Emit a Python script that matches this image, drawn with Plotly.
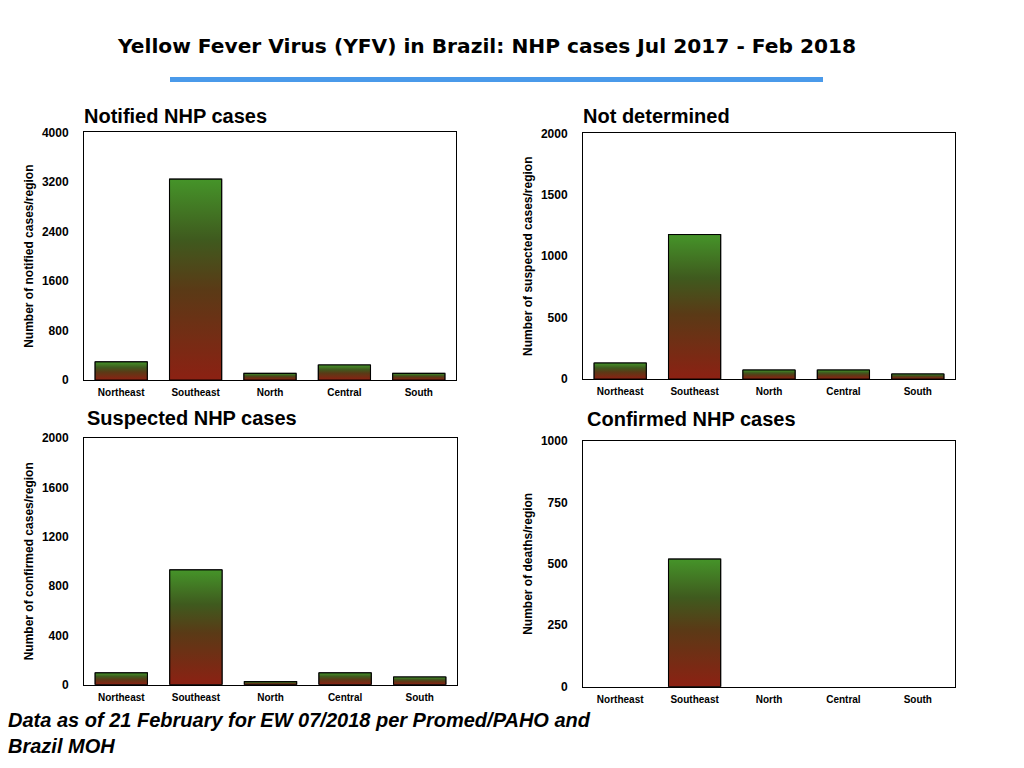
import plotly.graph_objects as go

# Regions (x categories)
regions = ["Northeast", "Southeast", "North", "Central", "South"]

# Values per panel
notified = [292, 3243, 107, 243, 107]
not_determined = [130, 1176, 73, 73, 41]
suspected = [95, 930, 24, 95, 62]
confirmed = [0, 519, 0, 0, 0]

panel_titles = ["Notified NHP cases", "Not determined",
                "Suspected NHP cases", "Confirmed NHP cases"]
y_titles = ["Number of notified cases/region", "Number of suspected cases/region",
            "Number of confirmed cases/region", "Number of deaths/region"]
y_ticks = [
    [0, 800, 1600, 2400, 3200, 4000],
    [0, 500, 1000, 1500, 2000],
    [0, 400, 800, 1200, 1600, 2000],
    [0, 250, 500, 750, 1000],
]
series = [notified, not_determined, suspected, confirmed]

W, H = 1024, 768
FONT = "Liberation Sans, Arial, Helvetica, sans-serif"
BAR_W = 0.7
GRADIENT = [[0.0, "#8c2113"], [0.45, "#5a3a16"], [0.7, "#3f5a1e"], [1.0, "#459429"]]


def px(x):
    return x / W


def py(y):
    # page pixel -> paper fraction (small vertical correction measured on the render)
    return 1 - ((y - 6.5) / 0.983) / H


# plot areas in pixels: (left, right, top, bottom)
boxes = [(84, 456, 132, 380), (583, 955, 133, 379),
         (84, 457, 438, 685), (583, 955, 441, 687)]
# panel title positions (left, middle) in pixels
title_pos = [(84, 116), (583, 116), (87, 418), (587, 419)]

fig = go.Figure()
layout = {}

for k, (vals, box) in enumerate(zip(series, boxes)):
    n = "" if k == 0 else str(k + 1)
    xa, ya = "x" + n, "y" + n
    xs = list(range(len(regions)))

    # the bars themselves (no outline on empty bars)
    fig.add_trace(go.Bar(
        x=xs, y=vals, width=BAR_W, xaxis=xa, yaxis=ya,
        marker=dict(color="rgba(0,0,0,0)",
                    line=dict(color="black", width=[1.2 if v > 0 else 0 for v in vals])),
        hovertext=regions, showlegend=False,
    ))
    # gradient fill for each bar
    for i, v in enumerate(vals):
        if v <= 0:
            continue
        x0, x1 = i - BAR_W / 2, i + BAR_W / 2
        fig.add_trace(go.Scatter(
            x=[x0, x0, x1, x1, x0], y=[0, v, v, 0, 0], xaxis=xa, yaxis=ya,
            mode="lines", fill="toself",
            fillgradient=dict(type="vertical", colorscale=GRADIENT),
            line=dict(color="black", width=1),
            hoverinfo="skip", showlegend=False,
        ))

    l, r, t, b = box
    layout["xaxis" + n] = dict(
        domain=[px(l), px(r)], anchor=ya, range=[-0.5, 4.5],
        tickvals=xs, ticktext=regions, showgrid=False, zeroline=False,
        showline=True, mirror=True, linecolor="black", linewidth=1,
        ticks="", ticklabelstandoff=3,
        tickfont=dict(family=FONT, size=10, color="black", weight="bold"),
        fixedrange=True,
    )
    layout["yaxis" + n] = dict(
        domain=[py(b), py(t)], anchor=xa,
        range=[0, y_ticks[k][-1]], tickvals=y_ticks[k],
        showgrid=False, zeroline=False,
        showline=True, mirror=True, linecolor="black", linewidth=1,
        ticks="", ticklabelstandoff=12,
        tickfont=dict(family=FONT, size=12, color="black", weight="bold"),
        title=dict(text=y_titles[k], standoff=5,
                   font=dict(family=FONT, size=12, color="black", weight="bold")),
        fixedrange=True,
    )

annotations = [
    dict(text="Yellow Fever Virus (YFV) in Brazil: NHP cases Jul 2017 - Feb 2018",
         x=px(486), y=py(46), xref="paper", yref="paper",
         xanchor="center", yanchor="middle", showarrow=False,
         font=dict(family="DejaVu Sans, sans-serif", size=20.2, color="black", weight="bold")),
    dict(text="<b><i>Data as of 21 February for EW 07/2018 per Promed/PAHO and<br>Brazil MOH</i></b>",
         x=px(6), y=py(733), xref="paper", yref="paper",
         xanchor="left", yanchor="middle", align="left", showarrow=False,
         font=dict(family=FONT, size=20, color="black")),
]
for title, (tx, ty) in zip(panel_titles, title_pos):
    annotations.append(dict(
        text=title, x=px(tx), y=py(ty), xref="paper", yref="paper",
        xanchor="left", yanchor="middle", showarrow=False, xshift=-2,
        font=dict(family=FONT, size=20, color="black", weight="bold")))

fig.update_layout(
    width=W, height=H,
    margin=dict(l=0, r=0, t=0, b=0),
    paper_bgcolor="white", plot_bgcolor="white",
    barmode="overlay",
    annotations=annotations,
    shapes=[dict(type="line", xref="paper", yref="paper",
                 x0=px(170), x1=px(823), y0=py(79), y1=py(79),
                 line=dict(color="#4a9aea", width=5))],
    **layout,
)

fig.write_html("out.html", config={"displayModeBar": False},
               post_script="document.body.style.margin='0';document.body.style.overflow='hidden';")
